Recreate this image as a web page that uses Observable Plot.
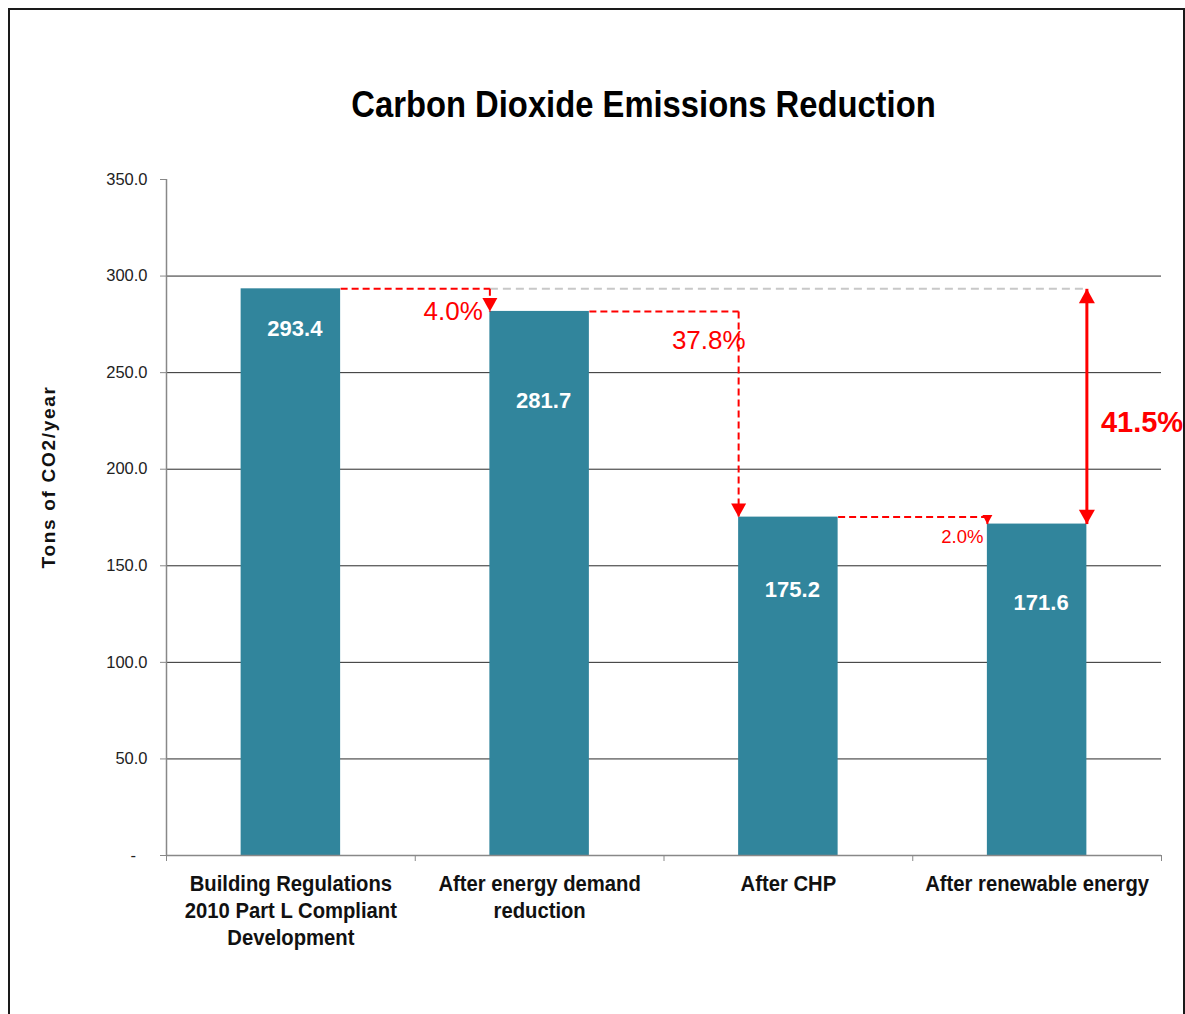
<!DOCTYPE html>
<html>
<head>
<meta charset="utf-8">
<script src="https://cdn.jsdelivr.net/npm/d3@7"></script>
<script src="https://cdn.jsdelivr.net/npm/@observablehq/plot@0.6"></script>
<style>
  html, body { margin: 0; padding: 0; background: #fff; overflow: hidden; width: 1185px; height: 1014px; }
  #frame { position: absolute; left: 8px; top: 8px; width: 1177px; height: 1100px; box-sizing: border-box;
           border: 2px solid #1a1a1a; pointer-events: none; }
  #titlebox { position: relative; height: 140px; width: 1185px; }
  #title { position: absolute; top: 85px; left: 102px; right: 0; text-align: center;
           font-family: "Liberation Sans", Arial, sans-serif;
           font-weight: bold; font-size: 36px; line-height: 40px; color: #000;
           transform: scaleX(0.91); }
  #chart { position: relative; }
</style>
</head>
<body>
<div id="titlebox"><div id="title"></div></div>
<div id="chart"></div>
<div id="frame"></div>
<script>
const chartTitle = "Carbon Dioxide Emissions Reduction";
const yTitle = "Tons of CO2/year";
const categories = [
  "Building Regulations\n2010 Part L Compliant\nDevelopment",
  "After energy demand\nreduction",
  "After CHP",
  "After renewable energy"
];
const emissions = [293.4, 281.7, 175.2, 171.6];
const yTicks = [0, 50, 100, 150, 200, 250, 300, 350];
const gridValues = [50, 100, 150, 200, 250, 300];
const stepLabels = ["4.0%", "37.8%", "2.0%"];
const totalLabel = "41.5%";

document.getElementById("title").textContent = chartTitle;

const sans = "'Liberation Sans', Arial, sans-serif";
const condensed = "'Liberation Sans', Arial, sans-serif";
const red = "#FF0000";
const teal = "#31859C";
const half = 0.2; // half bar width in index units

const bars = emissions.map((v, i) => ({i, value: v}));
const steps = stepLabels.map((label, k) => ({from: k, to: k + 1, label}));

// triangle symbols with the tip at the anchor point
const triDown = {draw(ctx, size) { const r = Math.sqrt(size / Math.PI); ctx.moveTo(0, 0); ctx.lineTo(-r, -1.8 * r); ctx.lineTo(r, -1.8 * r); ctx.closePath(); }};
const triUp = {draw(ctx, size) { const r = Math.sqrt(size / Math.PI); ctx.moveTo(0, 0); ctx.lineTo(-r, 1.8 * r); ctx.lineTo(r, 1.8 * r); ctx.closePath(); }};

const valueDy = [40, 90, 73, 79];
const stepText = [
  {textAnchor: "end", dx: -7, dy: 0, fontSize: 26, anchor: s => emissions[s.to]},
  {textAnchor: "end", dx: 7, dy: 29, fontSize: 26, anchor: s => emissions[s.from]},
  {textAnchor: "end", dx: -4, dy: 13, fontSize: 18.5, anchor: s => emissions[s.to]}
];

const plot = Plot.plot({
  width: 1185,
  height: 874,
  marginTop: 39,
  marginBottom: 159,
  marginLeft: 166,
  marginRight: 24,
  x: {type: "linear", domain: [-0.5, emissions.length - 0.5], axis: null},
  y: {domain: [0, 350], axis: null},
  style: {background: "white", overflow: "visible"},
  marks: [
    Plot.ruleY(gridValues, {stroke: "#2a2a2a", strokeWidth: 1}),
    Plot.rectY(bars, {x1: d => d.i - half, x2: d => d.i + half, y1: 0, y2: "value", fill: teal}),
    Plot.ruleY([0], {stroke: "#888", strokeWidth: 1.5}),
    Plot.ruleX([-0.5], {stroke: "#888", strokeWidth: 1.5}),
    Plot.axisY(yTicks, {
      tickSize: 6, tickPadding: 13, stroke: "#888", fill: "#222",
      tickFormat: d => d === 0 ? "-\u2002\u2009" : d.toFixed(1),
      fontSize: 16.5, fontFamily: sans, label: null
    }),
    Plot.axisX(d3.range(emissions.length + 1).map(k => k - 0.5), {
      tickSize: 6, tickFormat: () => "", stroke: "#888", label: null
    }),
    Plot.text(categories, {
      x: (d, i) => i, frameAnchor: "bottom", lineAnchor: "top", dy: 16,
      fontSize: 22.5, fontWeight: "bold", fontFamily: condensed, lineHeight: 1.2, fill: "#111",
      ariaLabel: "category-label"
    }),
    Plot.text([yTitle], {
      frameAnchor: "left", rotate: -90, dx: -118, dy: 51,
      fontSize: 19, fontWeight: "bold", fontFamily: sans, fill: "#111"
    }),
    ...bars.map((b, k) => Plot.text([b], {
      x: "i", y: "value", text: d => d.value.toFixed(1), dx: 4, dy: valueDy[k],
      fill: "white", fontSize: 22, fontWeight: "bold", fontFamily: sans
    })),
    // gray reference line at the starting level
    Plot.link([0], {x1: 1 - half, x2: emissions.length - 1 + half, y1: emissions[0], y2: emissions[0],
      stroke: "#c8c8c8", strokeWidth: 2, strokeDasharray: "8,5"}),
    // red dashed step connectors
    Plot.link(steps, {x1: s => s.from + half, x2: s => s.to - half, y1: s => emissions[s.from], y2: s => emissions[s.from],
      stroke: red, strokeWidth: 2, strokeDasharray: "7,4"}),
    Plot.link(steps, {x1: s => s.to - half, x2: s => s.to - half, y1: s => emissions[s.from], y2: s => emissions[s.to],
      stroke: red, strokeWidth: 2, strokeDasharray: "7,4"}),
    Plot.dot(steps.slice(0, 2), {x: s => s.to - half, y: s => emissions[s.to], symbol: triDown, r: 7.5, fill: red}),
    Plot.dot(steps.slice(2), {x: s => s.to - half, y: s => emissions[s.to], symbol: triDown, r: 5, fill: red}),
    ...steps.map((s, k) => Plot.text([s], {
      x: d => d.to - half, y: stepText[k].anchor, text: "label",
      textAnchor: stepText[k].textAnchor, dx: stepText[k].dx, dy: stepText[k].dy,
      fontSize: stepText[k].fontSize, fontFamily: sans, fill: red
    })),
    // total reduction double arrow
    Plot.link([0], {x1: emissions.length - 1 + half, x2: emissions.length - 1 + half,
      y1: emissions[0], y2: emissions[emissions.length - 1], stroke: red, strokeWidth: 3}),
    Plot.dot([emissions[0]], {x: emissions.length - 1 + half, y: d => d, symbol: triUp, r: 8, fill: red}),
    Plot.dot([emissions[emissions.length - 1]], {x: emissions.length - 1 + half, y: d => d, symbol: triDown, r: 8, fill: red}),
    Plot.text([totalLabel], {
      x: emissions.length - 1 + half, y: (emissions[0] + emissions[emissions.length - 1]) / 2,
      textAnchor: "start", dx: 14, dy: 16, fontSize: 29, fontWeight: "bold", fontFamily: sans, fill: red
    })
  ]
});

d3.select(plot).selectAll("text").filter(function() { return this.textContent === yTitle; })
  .style("letter-spacing", "1.7px");

// condense category labels horizontally (narrow bold look)
d3.select(plot).selectAll("text").filter(function() {
  return categories.some(c => c.replace(/\n/g, "") === this.textContent);
}).each(function() {
  const t = this.getAttribute("transform");
  if (t && t.includes("translate")) {
    this.setAttribute("transform", t + " scale(0.9,1)");
  } else {
    const x = +this.getAttribute("x") || 0;
    this.setAttribute("transform", `translate(${x},0) scale(0.9,1) translate(${-x},0)`);
  }
});

document.getElementById("chart").appendChild(plot);
</script>
</body>
</html>
